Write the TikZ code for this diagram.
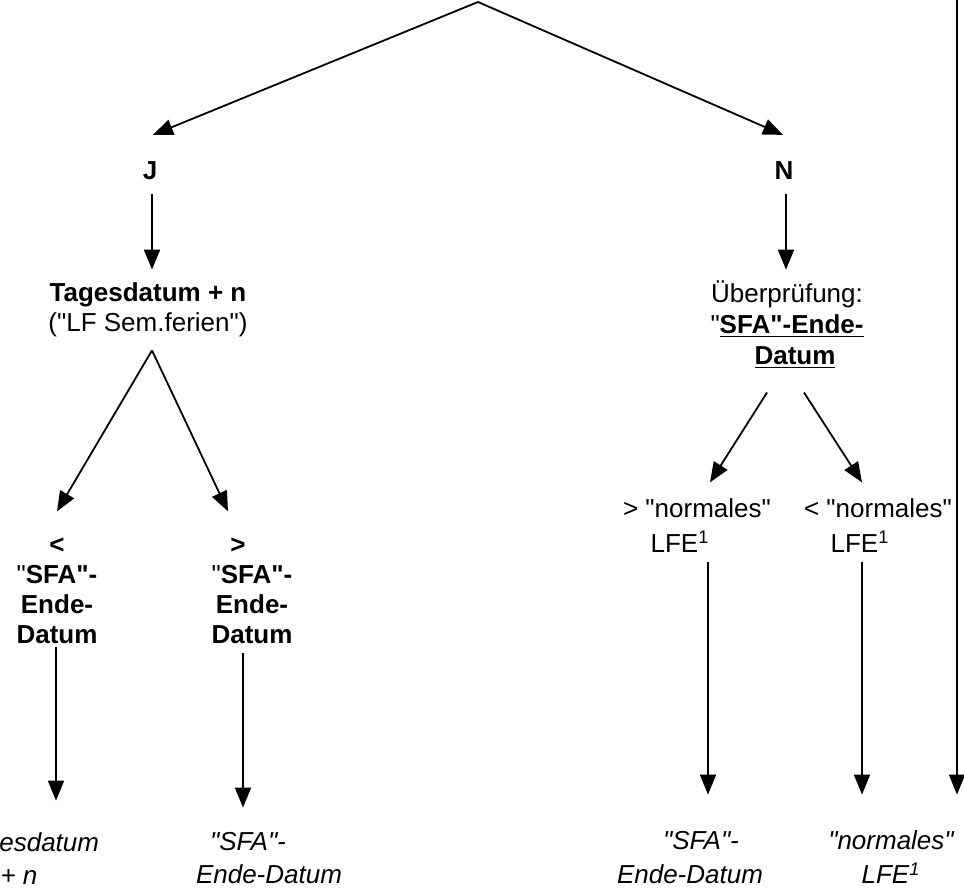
\documentclass[tikz,border=0pt]{standalone}
\usepackage{fontspec}
\setmainfont{Liberation Sans}
\usetikzlibrary{arrows.meta,calc}
\newcommand{\dq}{\textquotedbl}
\tikzset{
	lbl/.style={inner sep=0pt,align=center,font=\fontsize{13}{15}\selectfont},
	lblw/.style={lbl,font=\fontsize{13}{#1}\selectfont},
	lbli/.style={lbl,font=\fontsize{13}{#1}\selectfont\itshape},
	arr/.style={-{Triangle[width=8pt,length=10pt]},line width=0.9pt}
}
\begin{document}
\begin{tikzpicture}[x=0.5pt,y=-0.5pt]
		\path[use as bounding box](0,0)rectangle(964,892);
		\clip(0,0)rectangle(964,892);
		\coordinate(top)at(478,2);
		\coordinate(rtop)at(957,-5);
		\node[lbl](j)at(150,173.3){\textbf{J}\strut};
		\node[lbl](n)at(784,173.3){\textbf{N}\strut};
		\node[lbl](tag)at(148,310.5){\textbf{Tagesdatum + n}\strut\\(\dq LF Sem.ferien\dq)\strut};
		\node[lblw=15.5](ueb)at(787,327.6){Überprüfung:\strut\\\dq\textbf{\underline{SFA\dq-Ende-}}\strut\\\hspace*{8pt}\textbf{\underline{Datum}}\strut};
		\node[lbl](ll)at(57,592.8){\textbf{<}\strut\\\dq\textbf{SFA\dq-}\strut\\\textbf{Ende-}\strut\\\textbf{Datum}\strut};
		\node[lbl](lr)at(252,592.8){\textbf{>}\hspace*{14pt}\strut\\\dq\textbf{SFA\dq-}\strut\\\textbf{Ende-}\strut\\\textbf{Datum}\strut};
		\node[lblw=17.5](gt)at(697,527.8){> \dq normales\dq\strut\\LFE\textsuperscript{1}\hspace*{17pt}\strut};
		\node[lblw=17.5](lt)at(878,527.8){< \dq normales\dq\strut\\LFE\textsuperscript{1}\hspace*{18pt}\strut};
		\node[lbli=16.5](tb1)at(28,861){Tagesdatum\strut\\+ n\hspace*{9pt}\strut};
		\node[lbli=16.5](sfa1)at(269,860){\dq SFA\dq-\hspace*{21pt}\strut\\Ende-Datum\strut};
		\node[lbli=17](sfa2)at(690,860){\hspace*{11pt}\dq SFA\dq-\strut\\Ende-Datum\strut};
		\node[lbli=17](norm)at(891,860){\dq normales\dq\strut\\LFE\textsuperscript{1}\strut};
		\coordinate(tagfork)at($(tag.south)+(4,9.5)$);
		\draw[arr](top)--($(j.north)+(3,-23)$);
		\draw[arr](top)--($(n.north)+(-1,-23)$);
		\draw[arr]($(j.south)+(2,5)$)--($(j.south|-tag.north)+(2,-10.5)$);
		\draw[arr]($(n.south)+(2,5)$)--($(n.south|-ueb.north)+(2,-11)$);
		\draw[arr](tagfork)--($(ll.north)+(0,-21)$);
		\draw[arr](tagfork)--($(lr.north)+(-24,-21)$);
		\draw[arr]($(ueb.south)+(-20,18)$)--($(gt.north)+(13,-10)$);
		\draw[arr]($(ueb.south)+(17,18)$)--($(lt.north)+(-16,-10)$);
		\draw[arr]($(ll.south)+(-1,-6)$)--($(ll.south|-tb1.north)+(-1,-27)$);
		\draw[arr]($(lr.south)+(-9,0)$)--($(lr.south|-sfa1.north)+(-9,-19)$);
		\draw[arr]($(gt.south)+(11,-1)$)--($(gt.south|-sfa2.north)+(11,-31)$);
		\draw[arr]($(lt.south)+(-16,-1)$)--($(lt.south|-norm.north)+(-16,-31)$);
		\draw[arr](rtop)--($(norm.north)+(66,-31)$);
\end{tikzpicture}
\end{document}
